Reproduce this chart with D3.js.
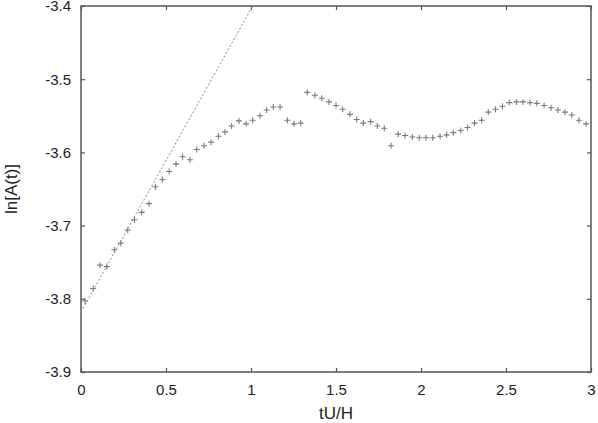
<!DOCTYPE html>
<html>
<head>
<meta charset="utf-8">
<script src="https://cdn.jsdelivr.net/npm/d3@7"></script>
<style>
  body { margin: 0; background: #fff; }
  svg { display: block; }
  .tick text { font-family: "Liberation Sans", Arial, sans-serif; font-size: 15px; fill: #222; }
</style>
</head>
<body>
<div id="chart"></div>
<script>
// measured points: time tU/H and ln[A(t)]
var tValues = [0.024, 0.072, 0.112, 0.151, 0.196, 0.234, 0.275, 0.314, 0.357, 0.400,
  0.438, 0.479, 0.519, 0.559, 0.598, 0.641, 0.681, 0.724, 0.765, 0.808,
  0.847, 0.886, 0.929, 0.971, 1.010, 1.053, 1.092, 1.131, 1.171, 1.214,
  1.253, 1.292, 1.331, 1.376, 1.416, 1.459, 1.500, 1.539, 1.582, 1.622,
  1.661, 1.704, 1.743, 1.784, 1.824, 1.866, 1.906, 1.949, 1.990, 2.029,
  2.069, 2.112, 2.151, 2.190, 2.234, 2.274, 2.315, 2.357, 2.396, 2.438,
  2.479, 2.519, 2.562, 2.600, 2.641, 2.681, 2.724, 2.765, 2.806, 2.847,
  2.887, 2.929, 2.971];
var lnA = [-3.803, -3.786, -3.754, -3.756, -3.733, -3.724, -3.706, -3.692, -3.682, -3.670,
  -3.647, -3.637, -3.626, -3.616, -3.606, -3.610, -3.596, -3.591, -3.586, -3.578,
  -3.572, -3.564, -3.557, -3.561, -3.556, -3.550, -3.542, -3.538, -3.538, -3.556,
  -3.561, -3.560, -3.518, -3.522, -3.526, -3.531, -3.536, -3.541, -3.548, -3.555,
  -3.560, -3.558, -3.564, -3.567, -3.591, -3.575, -3.577, -3.579, -3.580, -3.580,
  -3.580, -3.578, -3.576, -3.573, -3.570, -3.566, -3.560, -3.556, -3.545, -3.541,
  -3.537, -3.532, -3.531, -3.531, -3.532, -3.533, -3.536, -3.539, -3.542, -3.545,
  -3.549, -3.556, -3.561];

// straight fit line (dotted)
var fitT = [0, 1.01];
var fitY = [-3.818, -3.4];

var xTicks = [0, 0.5, 1, 1.5, 2, 2.5, 3];
var yTicks = [-3.9, -3.8, -3.7, -3.6, -3.5, -3.4];

var margin = {top: 6, right: 7, bottom: 51, left: 81},
    width = 598 - margin.left - margin.right,
    height = 423 - margin.top - margin.bottom;

var svg = d3.select("#chart")
  .append("svg")
  .attr("width", 598)
  .attr("height", 423)
  .append("g")
  .attr("transform", "translate(" + margin.left + "," + margin.top + ")");

var xScale = d3.scaleLinear().domain([0, 3]).range([0, width]);
var yScale = d3.scaleLinear().domain([-3.9, -3.4]).range([height, 0]);

svg.append("clipPath").attr("id", "clip")
  .append("rect").attr("width", width).attr("height", height);

// axes with inside ticks
function styleAxis(g) {
  g.select(".domain").remove();
  g.selectAll(".tick line").attr("stroke", "#555").attr("stroke-width", 1.2);
}

svg.append("g")
  .attr("transform", "translate(0," + height + ")")
  .call(d3.axisBottom(xScale).tickValues(xTicks).tickSize(-4).tickPadding(12)
    .tickFormat(function(d) { return String(d); }))
  .call(styleAxis);

svg.append("g")
  .call(d3.axisTop(xScale).tickValues(xTicks).tickSize(-4).tickFormat(""))
  .call(styleAxis);

svg.append("g")
  .call(d3.axisLeft(yScale).tickValues(yTicks).tickSize(-4).tickPadding(10)
    .tickFormat(function(d) { return d.toFixed(1); }))
  .call(styleAxis);

svg.append("g")
  .attr("transform", "translate(" + width + ",0)")
  .call(d3.axisRight(yScale).tickValues(yTicks).tickSize(-4).tickFormat(""))
  .call(styleAxis);

// frame
svg.append("rect")
  .attr("width", width)
  .attr("height", height)
  .attr("fill", "none")
  .attr("stroke", "#555")
  .attr("stroke-width", 1.5);

// dotted fit line
var line = d3.line()
  .x(function(d) { return xScale(d[0]); })
  .y(function(d) { return yScale(d[1]); });

svg.append("path")
  .datum(d3.zip(fitT, fitY))
  .attr("clip-path", "url(#clip)")
  .attr("d", line)
  .attr("fill", "none")
  .attr("stroke", "#888")
  .attr("stroke-width", 1)
  .attr("stroke-dasharray", "2,2");

// plus markers
var pts = svg.selectAll(".pt")
  .data(d3.zip(tValues, lnA))
  .enter()
  .append("path")
  .attr("class", "pt")
  .attr("d", function(d) {
    var x = xScale(d[0]), y = yScale(d[1]), s = 3;
    return "M" + (x - s) + "," + y + "H" + (x + s) + "M" + x + "," + (y - s) + "V" + (y + s);
  })
  .attr("stroke", "#7a7a7a")
  .attr("stroke-width", 1.1)
  .attr("fill", "none");

// axis titles
svg.append("text")
  .attr("x", xScale(1.5))
  .attr("y", height + 47)
  .attr("text-anchor", "middle")
  .style("font-family", "Liberation Sans, Arial, sans-serif")
  .style("font-size", "17px")
  .style("fill", "#222")
  .text("tU/H");

svg.append("text")
  .attr("transform", "rotate(-90)")
  .attr("x", -height / 2)
  .attr("y", -64)
  .attr("text-anchor", "middle")
  .style("font-family", "Liberation Sans, Arial, sans-serif")
  .style("font-size", "17px")
  .style("fill", "#222")
  .text("ln[A(t)]");
</script>
</body>
</html>
